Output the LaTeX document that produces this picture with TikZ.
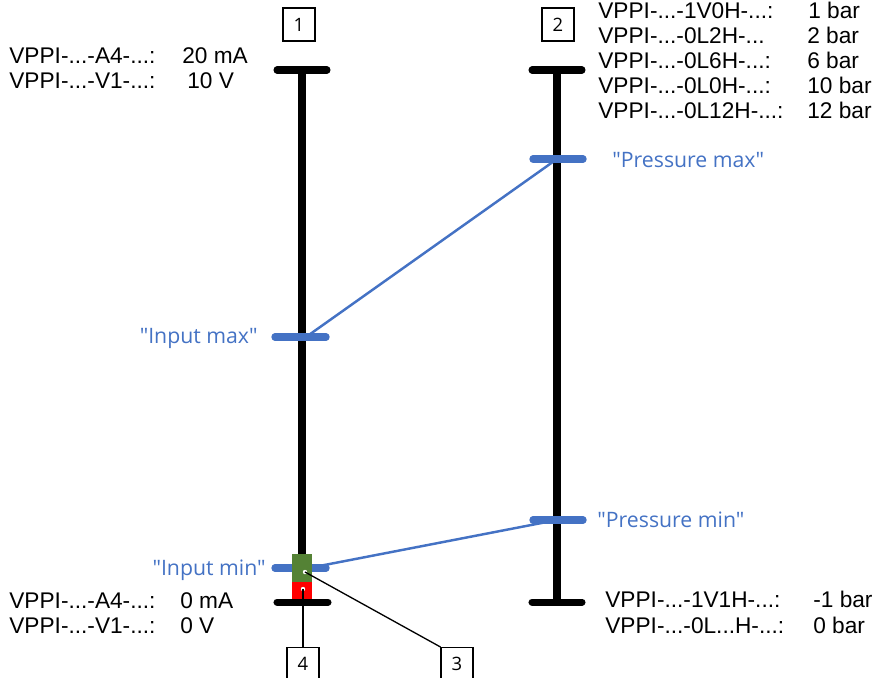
\documentclass[tikz,border=0pt]{standalone}
\usepackage{fontspec}
\setmainfont{Liberation Sans}
\newfontfamily\labelfont{Open Sans}
\definecolor{markblue}{RGB}{68,114,196}
\definecolor{valvegreen}{RGB}{84,130,53}
\definecolor{valvered}{RGB}{255,0,0}

\begin{document}
\begin{tikzpicture}[x=0.02cm,y=-0.02cm,
  axis/.style={line width=4pt,line cap=round},
  bluebar/.style={markblue,line width=4.2pt,line cap=round},
  blueline/.style={markblue,line width=1.4pt},
  leader/.style={line width=0.75pt},
  numbox/.style={draw,line width=0.6pt,minimum width=0.64cm,minimum height=0.66cm,inner sep=0pt,font=\labelfont\fontsize{10.5}{12}\selectfont},
  txt/.style={inner sep=0pt,anchor=base west,font=\fontsize{12.9}{15}\selectfont},
  bluetxt/.style={inner sep=0pt,markblue,font=\labelfont\fontsize{12.1}{14}\selectfont}]
\useasboundingbox (0,0) rectangle (888,677);

% the two scales
\coordinate (inTop) at (302,70);
\coordinate (inBot) at (302,602);
\coordinate (prTop) at (557,70);
\coordinate (prBot) at (557,602);
\coordinate (inMax) at (300,337);
\coordinate (inMin) at (300,568);
\coordinate (prMax) at (557,159);
\coordinate (prMin) at (557,520);

\draw[axis] (inTop) -- (inBot);
\draw[axis] (inTop) ++(-25,0) -- ++(50,0);
\draw[axis] (prTop) -- (prBot);
\draw[axis] (prTop) ++(-25,0) -- ++(50,0);
\draw[axis] (prBot) ++(-25,0) -- ++(50,0);

% set points
\draw[bluebar] (inMax) ++(-25,0) -- ++(51,0);
\draw[bluebar] (inMin) ++(-25,0) -- ++(51,0);
\draw[bluebar] (prMax) ++(-24,0) -- ++(50,0);
\draw[bluebar] (prMin) ++(-24,0) -- ++(50,0);
\draw[blueline] (inMax) ++(6,0) coordinate (inMaxR) -- (prMax);
\draw[blueline] (inMin) ++(14,-1) coordinate (inMinR) -- (prMin);

% valve block
\fill[valvegreen] (292,554) rectangle (312,582);
\fill[valvered] (292,582) rectangle (312,600);
\draw[axis] (inBot) ++(-25,0) -- ++(51,0);

\node[bluetxt,anchor=base east] (inMaxLbl) at (258,343) {"Input max"};
\node[bluetxt,anchor=base east] (inMinLbl) at (266,575) {"Input min"};
\node[bluetxt,anchor=base west] (prMaxLbl) at (612,167) {"Pressure max"};
\node[bluetxt,anchor=base west] (prMinLbl) at (597,527) {"Pressure min"};

% numbered callouts
\node[numbox] (n1) at (299,24.5) {1};
\node[numbox] (n2) at (558,24.5) {2};
\node[numbox] (n4) at (303,664) {4};
\node[numbox] (n3) at (457,664) {3};
\coordinate (greenPt) at (305,572);
\coordinate (redPt) at (303,589);
\fill[white] (greenPt) circle (2.2);
\fill[white] (redPt) circle (2.2);
\draw[leader] (greenPt) -- (n3.north west);
\draw[leader] (redPt) -- (n4.north);

% variant texts, input side
\node[txt] (a4hi) at (9,63) {VPPI-...-A4-...:};
\node[txt] (a4hiV) at (182,63) {20 mA};
\node[txt] (v1hi) at (9,88) {VPPI-...-V1-...:};
\node[txt] (v1hiV) at (187,88) {10 V};
\node[txt] (a4lo) at (9,608) {VPPI-...-A4-...:};
\node[txt] (a4loV) at (180,608) {0 mA};
\node[txt] (v1lo) at (9,633) {VPPI-...-V1-...:};
\node[txt] (v1loV) at (180,633) {0 V};

% variant texts, pressure side
\node[txt] (p1) at (598,18) {VPPI-...-1V0H-...:};
\node[txt] (p1V) at (808,18) {1 bar};
\node[txt] (p2) at (598,43) {VPPI-...-0L2H-...};
\node[txt] (p2V) at (807,43) {2 bar};
\node[txt] (p6) at (598,68) {VPPI-...-0L6H-...:};
\node[txt] (p6V) at (807,68) {6 bar};
\node[txt] (p10) at (598,93) {VPPI-...-0L0H-...:};
\node[txt] (p10V) at (807,93) {10 bar};
\node[txt] (p12) at (598,118) {VPPI-...-0L12H-...:};
\node[txt] (p12V) at (807,118) {12 bar};
\node[txt] (pm1) at (605,607) {VPPI-...-1V1H-...:};
\node[txt] (pm1V) at (813,607) {-1 bar};
\node[txt] (p0) at (605,633) {VPPI-...-0L...H-...:};
\node[txt] (p0V) at (813,633) {0 bar};
\end{tikzpicture}
\end{document}
